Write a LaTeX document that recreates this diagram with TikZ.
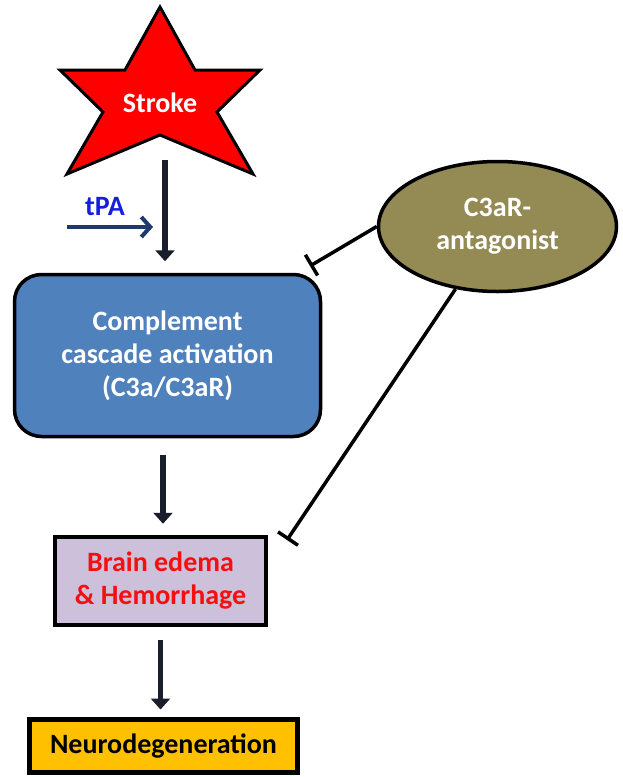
\documentclass[tikz,border=0pt]{standalone}
\usepackage{fontspec}
\setmainfont{Carlito}
\usetikzlibrary{arrows.meta,shapes.geometric}
\definecolor{starred}{RGB}{255,0,0}
\definecolor{compblue}{RGB}{79,129,189}
\definecolor{olivefill}{RGB}{148,138,84}
\definecolor{lav}{RGB}{204,192,218}
\definecolor{amber}{RGB}{255,192,0}
\definecolor{navyline}{RGB}{31,56,110}
\definecolor{arrowdark}{RGB}{25,30,45}
\definecolor{tpablue}{RGB}{20,30,220}
\definecolor{edemared}{RGB}{245,15,15}
\begin{document}
\begin{tikzpicture}[x=1pt,y=-1pt,
  lbl/.style={font=\fontsize{28}{33}\selectfont\bfseries, align=center, inner sep=0pt},
  mainarrow/.style={draw=arrowdark, line width=5.5pt, -{Triangle[width=19pt,length=11pt]}},
  inhib/.style={draw=black, line width=3.5pt, -{Bar[width=24pt]}},
]
\useasboundingbox (0,0) rectangle (622,777);
% star
\filldraw[fill=starred, draw=black, line width=3pt, line join=miter]
  (160,7) -- (195,70) -- (260,70) -- (217,112) -- (253,174) -- (160,135)
  -- (67,174) -- (103,112) -- (60,70) -- (125,70) -- cycle;
\node[lbl, text=white] (stroke) at (160,103) {Stroke};
% boxes
\node[draw=black, line width=3.5pt, fill=compblue, rounded corners=27pt,
  minimum width=306pt, minimum height=162pt, lbl, text=white]
  (comp) at (167.5,355.5) {Complement\\cascade activation\\(C3a/C3aR)};
\node[ellipse, draw=black, line width=3.5pt, fill=olivefill,
  minimum width=238pt, minimum height=130pt, lbl, text=white]
  (ant) at (497.5,226.5) {C3aR-\\antagonist};
\node[rectangle, draw=black, line width=4.5pt, fill=lav,
  minimum width=211pt, minimum height=88pt, lbl, text=edemared]
  (brain) at (160.5,581) {Brain edema\\\& Hemorrhage};
\node[rectangle, draw=black, line width=5pt, fill=amber,
  minimum width=268pt, minimum height=53pt, lbl, text=black]
  (neuro) at (163.5,746) {Neurodegeneration};
% main arrows
\coordinate (s1) at (165,160);
\draw[mainarrow, shorten >=11.5pt] (s1) -- (s1 |- comp.north);
\draw[mainarrow, shorten <=16.5pt, shorten >=11pt]
  ([xshift=-4.5pt]comp.south) -- ([xshift=-4.5pt]comp.south |- brain.north);
\draw[mainarrow, shorten <=13pt, shorten >=7.5pt]
  (brain.south) -- (brain.south |- neuro.north);
% tPA
\node[lbl, text=tpablue] (tpa) at (105,207) {tPA};
\coordinate (t0) at (67,227);
\coordinate (t1) at (153,227);
\draw[navyline, line width=4pt, -{Straight Barb[length=9pt,width=20pt]}] (t0) -- (t1);
% inhibitions
\coordinate (i1) at (310,266);
\coordinate (i2) at (287,540);
\draw[inhib] (ant.west) -- (i1);
\draw[inhib] (ant) -- (i2);
\end{tikzpicture}
\end{document}
